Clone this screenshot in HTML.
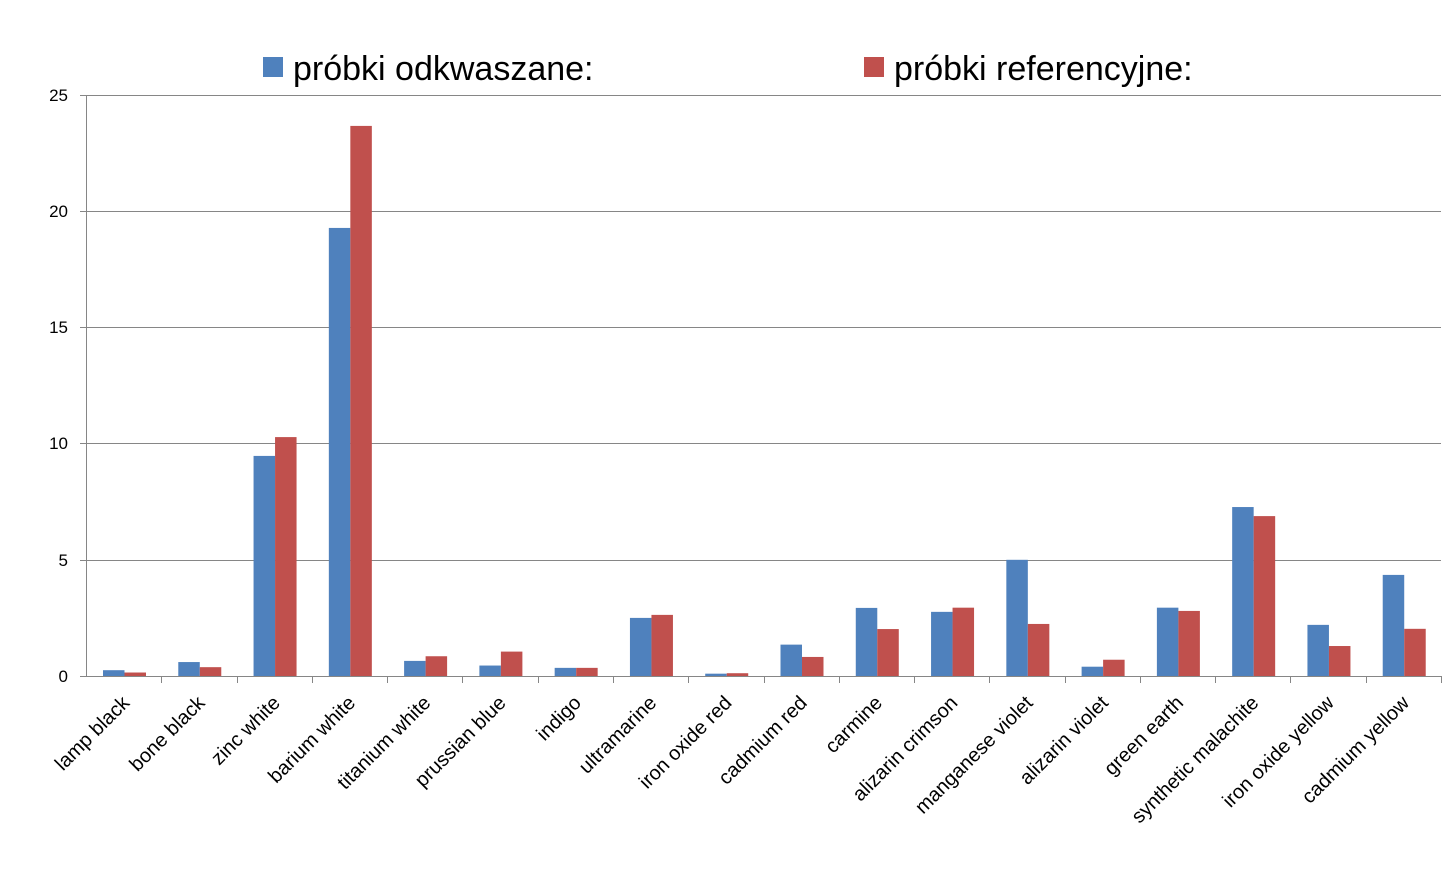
<!DOCTYPE html>
<html><head><meta charset="utf-8"><style>body{margin:0;background:#fff}svg{display:block;font-family:"Liberation Sans",sans-serif}</style></head><body>
<svg width="1453" height="874" xmlns="http://www.w3.org/2000/svg">
<rect width="1453" height="874" fill="#fff"/>
<g stroke="#868686" stroke-width="1">
<line x1="86" y1="95.5" x2="1441" y2="95.5"/>
<line x1="86" y1="211.5" x2="1441" y2="211.5"/>
<line x1="86" y1="327.5" x2="1441" y2="327.5"/>
<line x1="86" y1="443.5" x2="1441" y2="443.5"/>
<line x1="86" y1="560.5" x2="1441" y2="560.5"/>
<line x1="80" y1="95.5" x2="86" y2="95.5"/><line x1="80" y1="211.5" x2="86" y2="211.5"/><line x1="80" y1="327.5" x2="86" y2="327.5"/><line x1="80" y1="443.5" x2="86" y2="443.5"/><line x1="80" y1="560.5" x2="86" y2="560.5"/><line x1="80" y1="676.5" x2="86" y2="676.5"/>
<line x1="86.5" y1="95" x2="86.5" y2="676"/>
</g>
<g font-size="17" fill="#000" text-anchor="end">
<text x="68" y="101">25</text><text x="68" y="217">20</text><text x="68" y="333">15</text><text x="68" y="449">10</text><text x="68" y="566">5</text><text x="68" y="682">0</text>
</g>
<g id="bars"></g>
<line x1="86" y1="676.5" x2="1441" y2="676.5" stroke="#868686"/>
<g id="ticks" stroke="#868686"></g>
<g id="labels" font-size="20" fill="#000" text-anchor="end"></g>
<rect x="263" y="57" width="20" height="20" fill="#4F81BD"/>
<text x="293" y="80" font-size="34" fill="#000">próbki odkwaszane:</text>
<rect x="864" y="57" width="20" height="20" fill="#C0504D"/>
<text x="894" y="80" font-size="34" fill="#000">próbki referencyjne:</text>
<script>
var d=[["lamp black",.25,.15],["bone black",.6,.38],["zinc white",9.47,10.28],["barium white",19.28,23.67],["titanium white",.65,.85],["prussian blue",.45,1.05],["indigo",.35,.35],["ultramarine",2.5,2.63],["iron oxide red",.1,.12],["cadmium red",1.35,.82],["carmine",2.93,2.02],["alizarin crimson",2.76,2.94],["manganese violet",5,2.24],["alizarin violet",.4,.7],["green earth",2.94,2.8],["synthetic malachite",7.27,6.88],["iron oxide yellow",2.2,1.29],["cadmium yellow",4.35,2.03]];
var ns="http://www.w3.org/2000/svg",w=1355/18,s=581/25,b=document.getElementById("bars"),t=document.getElementById("ticks"),l=document.getElementById("labels");
function el(p,n,a,tx){var e=document.createElementNS(ns,n);for(var k in a)e.setAttribute(k,a[k]);if(tx)e.textContent=tx;p.appendChild(e);}
d.forEach(function(r,i){var x0=86+i*w;
el(b,"rect",{x:x0+17,y:676-r[1]*s,width:21.5,height:r[1]*s,fill:"#4F81BD"});
el(b,"rect",{x:x0+38.5,y:676-r[2]*s,width:21.5,height:r[2]*s,fill:"#C0504D"});
el(t,"line",{x1:Math.round(x0+w)+.5,y1:676,x2:Math.round(x0+w)+.5,y2:683});
var cx=x0+w/2+7,cy=704;
el(l,"text",{x:cx,y:cy,transform:"rotate(-45 "+cx+" "+cy+")"},r[0]);
});
</script>
</svg>
</body></html>
